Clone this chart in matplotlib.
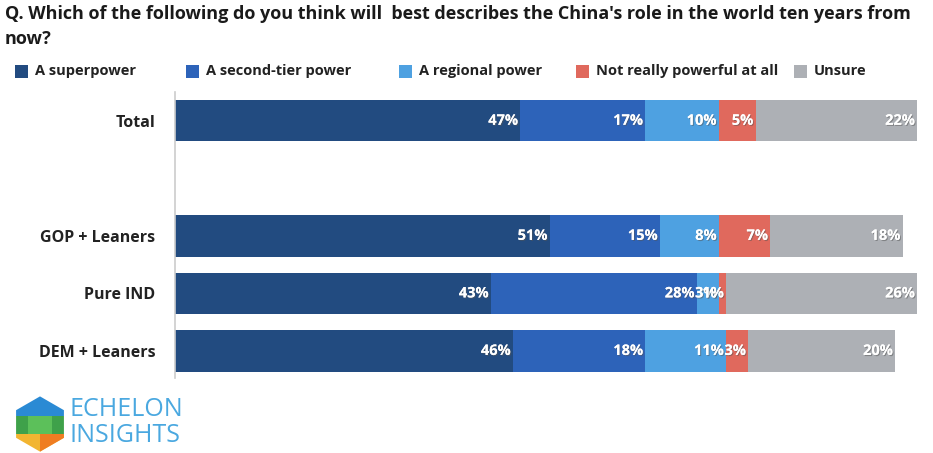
import numpy as np
import matplotlib.pyplot as plt
import matplotlib.patheffects as pe
from matplotlib.patches import Rectangle, Polygon

plt.rcParams['font.family'] = ['Open Sans', 'DejaVu Sans']

# survey groups (None = blank spacer row) and answer shares in %
groups = ['Total', None, 'GOP + Leaners', 'Pure IND', 'DEM + Leaners']
answers = ['A superpower', 'A second-tier power', 'A regional power',
           'Not really powerful at all', 'Unsure']
superpower = [47, 0, 51, 43, 46]
second_tier = [17, 0, 15, 28, 18]
regional = [10, 0, 8, 3, 11]
not_powerful = [5, 0, 7, 1, 3]
unsure = [22, 0, 18, 26, 20]

series = [superpower, second_tier, regional, not_powerful, unsure]
colors = ['#224b80', '#2d63b9', '#4ea1e1', '#e0695d', '#adb0b5']

W, H = 933, 453
fig = plt.figure(figsize=(W / 100, H / 100), dpi=100)

# main bar axes placed in pixel terms
ax_l, ax_r, ax_t, ax_b = 175, 935, 92, 378
ax = fig.add_axes([ax_l / W, 1 - ax_b / H, (ax_r - ax_l) / W, (ax_b - ax_t) / H])

ypos = np.arange(len(groups))
rows = [i for i, g in enumerate(groups) if g is not None]
left = np.zeros(len(groups))
shadow = [pe.withSimplePatchShadow(offset=(0.8, -0.8), shadow_rgbFace='#555555', alpha=0.5), pe.Normal()]
for vals, col in zip(series, colors):
    vals = np.array(vals, dtype=float)
    ax.barh(ypos[rows], vals[rows], left=left[rows], height=0.72, color=col, edgecolor='none')
    for i in rows:
        ax.text(left[i] + vals[i] - 0.3, ypos[i], f'{int(vals[i])}%', ha='right', va='center',
                color='white', fontsize=10.5, fontweight='bold', path_effects=shadow)
    left += vals

ax.set_xlim(0, (ax_r - ax_l) / 7.35)
ax.set_ylim(4.47, -0.5)
ax.set_yticks(ypos[rows])
ax.set_yticklabels([groups[i] for i in rows], fontsize=11.5, fontweight='bold', color='#222222')
ax.tick_params(axis='y', length=0, pad=14)
ax.set_xticks([])
for s in ['top', 'right', 'bottom']:
    ax.spines[s].set_visible(False)
ax.spines['left'].set_color('#cccccc')
ax.spines['left'].set_linewidth(1.2)

# title
fig.text(5 / W, 1 - 14 / H, "Q. Which of the following do you think will  best describes the China's role in the world ten years from",
         fontsize=13, fontweight='bold', color='#1a1a1a', va='center')
fig.text(5 / W, 1 - 39 / H, 'now?', fontsize=13, fontweight='bold', color='#1a1a1a', va='center')

# legend row
leg_sq = [15, 186, 399, 576, 794]
for x, lab, col in zip(leg_sq, answers, colors):
    fig.patches.append(Rectangle((x / W, 1 - 78 / H), 13 / W, 13 / H, transform=fig.transFigure,
                                 facecolor=col, edgecolor='none'))
    fig.text((x + 20) / W, 1 - 71 / H, lab, fontsize=10.5, fontweight='bold', color='#222222', va='center')

# logo: hexagon in bands
lax = fig.add_axes([11 / W, 1 - 453 / H, 58 / W, 58 / H])
lax.set_xlim(-1.05, 1.05)
lax.set_ylim(-1.05, 1.05)
lax.set_aspect('equal')
lax.axis('off')
ang = np.deg2rad([90, 30, -30, -90, -150, 150])
hexagon = Polygon(np.c_[np.cos(ang), np.sin(ang)], closed=True, facecolor='none', edgecolor='none')
lax.add_patch(hexagon)
bands = [(0.3, 1.1, '#2a8ad4'), (-0.35, 0.3, '#3fa14a'), (-1.1, -0.35, '#f2b531')]
for y0, y1, col in bands:
    r = Rectangle((-1.1, y0), 2.2, y1 - y0, facecolor=col, edgecolor='none')
    lax.add_patch(r)
    r.set_clip_path(hexagon)
r = Rectangle((0, -1.1), 1.1, 0.75, facecolor='#ef7d22', edgecolor='none')
lax.add_patch(r)
r.set_clip_path(hexagon)
r = Rectangle((-0.45, -0.35), 0.9, 0.65, facecolor='#5cc05a', edgecolor='none')
lax.add_patch(r)
r.set_clip_path(hexagon)

fig.text(70 / W, 1 - 410 / H, 'ECHELON', fontsize=18, color='#4aa8e0', va='center')
fig.text(70 / W, 1 - 436 / H, 'INSIGHTS', fontsize=18, color='#4aa8e0', va='center')

fig.savefig('out.png', dpi=100)
